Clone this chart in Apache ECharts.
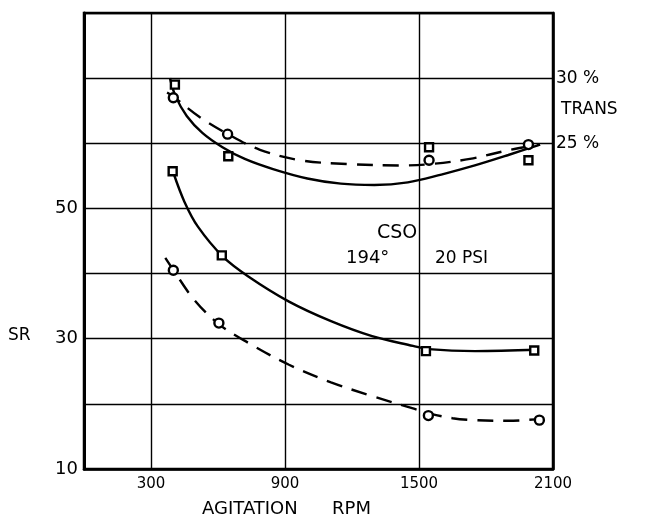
<!DOCTYPE html>
<html>
<head>
<meta charset="utf-8">
<script src="https://cdn.jsdelivr.net/npm/echarts@6/dist/echarts.min.js"></script>
<style>html,body{margin:0;padding:0;background:#fff}#c{width:645px;height:523px}</style>
</head>
<body>
<div id="c"></div>
<script>
// ---- data ----
var xTickLabels = [300, 900, 1500, 2100];
var srTickLabels = [10, 30, 50];
var transTickLabels = [25, 30];

// TRANS % (right axis) - upper curves
var transDashedCurve = [[372,28.9],[399,28.6],[519,27.0],[645,25.7],[788,24.5],[967,23.7],[1191,23.4],[1415,23.3],[1549,23.4],[1728,23.8],[1908,24.5],[2042,24.9]];
var transSolidCurve = [[385,30.0],[410,28.6],[460,27.1],[530,25.8],[620,24.7],[720,23.8],[850,23.0],[1000,22.3],[1150,21.9],[1300,21.8],[1450,22.0],[1600,22.6],[1750,23.3],[1900,24.1],[2042,24.9]];
var transCircles = [[400,28.5],[643,25.7],[1545,23.7],[1990,24.9]];
var transSquares = [[407,29.5],[646,24.0],[1545,24.7],[1990,23.7]];

// SR (left axis) - lower curves
var srSolidCurve = [[401,55.4],[450,51.0],[510,47.2],[622,42.6],[734,39.6],[918,35.7],[1106,32.7],[1290,30.4],[1473,28.9],[1543,28.4],[1751,28.1],[2028,28.3]];
var srDashedCurve = [[364,42.4],[401,40.5],[493,36.0],[605,32.2],[734,29.4],[918,26.0],[1106,23.3],[1290,21.2],[1473,19.3],[1549,18.5],[1650,17.8],[1751,17.5],[1900,17.4],[2047,17.7]];
var srSquares = [[397,55.7],[617,42.8],[1531,28.1],[2016,28.2]];
var srCircles = [[400,40.5],[604,32.4],[1542,18.2],[2039,17.5]];

var FONT = 'DejaVu Sans';
var chart = echarts.init(document.getElementById('c'));

function curve(data, yIdx, dashed) {
  return {
    type: 'line', data: data, yAxisIndex: yIdx, smooth: 0.35, showSymbol: false, symbol: 'none',
    lineStyle: { color: '#000', width: 2.4, type: dashed ? [16, 10] : 'solid' },
    silent: true, z: 3
  };
}
function marks(data, yIdx, sym) {
  return {
    type: 'scatter', data: data, yAxisIndex: yIdx, symbol: sym,
    symbolSize: sym === 'circle' ? 9 : 8,
    itemStyle: { color: '#fff', borderColor: '#000', borderWidth: 2.4, opacity: 1 },
    z: 5
  };
}

chart.setOption({
  animation: false,
  backgroundColor: '#fff',
  grid: { left: 84, right: 92, top: 13, bottom: 53, show: true, borderColor: '#000', borderWidth: 2.5, backgroundColor: 'transparent' },
  xAxis: {
    type: 'value', min: 0, max: 2100, interval: 300,
    name: 'AGITATION      RPM', nameLocation: 'middle', nameGap: 31,
    nameTextStyle: { fontFamily: FONT, fontSize: 18, color: '#000', padding: [0, 64, 0, 0] },
    axisLine: { show: true, lineStyle: { color: '#000', width: 2.5 } },
    axisTick: { show: false, customValues: xTickLabels },
    axisLabel: { customValues: xTickLabels, formatter: function (v) { return String(v); }, fontFamily: FONT, fontSize: 15, color: '#000', margin: 8 },
    splitLine: { show: true, lineStyle: { color: '#000', width: 1.4 } }
  },
  yAxis: [{
    type: 'value', min: 10, max: 80, interval: 10, position: 'left',
    axisLine: { show: true, lineStyle: { color: '#000', width: 3 } },
    axisTick: { show: false },
    axisLabel: { customValues: srTickLabels, formatter: function (v) { return String(v); }, fontFamily: FONT, fontSize: 18, color: '#000', margin: 6 },
    splitLine: { show: true, lineStyle: { color: '#000', width: 1.4 } }
  }, {
    type: 'value', min: 0, max: 35, interval: 5, position: 'right',
    axisLine: { show: true, lineStyle: { color: '#000', width: 2.5 } },
    axisTick: { show: false },
    axisLabel: { customValues: transTickLabels, formatter: function (v) { return v + ' %'; }, fontFamily: FONT, fontSize: 17, color: '#000', margin: 3 },
    splitLine: { show: false }
  }],
  graphic: [
    { type: 'text', left: 8, top: 327, style: { text: 'SR', font: '17px "DejaVu Sans"', fill: '#000' } },
    { type: 'text', left: 561, top: 101, style: { text: 'TRANS', font: '17px "DejaVu Sans"', fill: '#000' } },
    { type: 'text', left: 377, top: 224, style: { text: 'CSO', font: '19px "DejaVu Sans"', fill: '#000' } },
    { type: 'text', left: 346, top: 249, style: { text: '194°', font: '18px "DejaVu Sans"', fill: '#000' } },
    { type: 'text', left: 435, top: 250, style: { text: '20 PSI', font: '17px "DejaVu Sans"', fill: '#000' } }
  ],
  series: [
    curve(transDashedCurve, 1, true),
    curve(transSolidCurve, 1, false),
    curve(srSolidCurve, 0, false),
    curve(srDashedCurve, 0, true),
    marks(transCircles, 1, 'circle'),
    marks(transSquares, 1, 'rect'),
    marks(srSquares, 0, 'rect'),
    marks(srCircles, 0, 'circle')
  ]
});
</script>
</body>
</html>
